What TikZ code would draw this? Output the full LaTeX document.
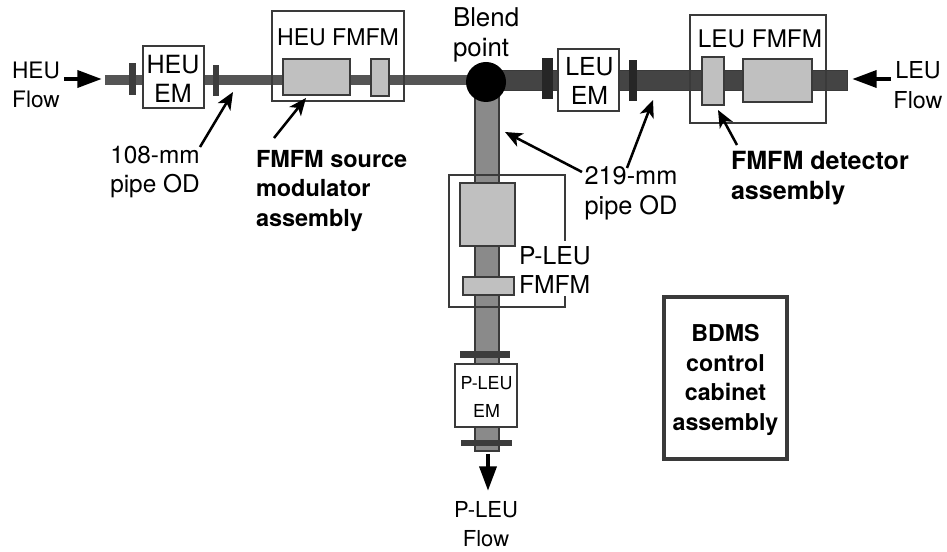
\documentclass[tikz,border=0pt]{standalone}
\usepackage{fontspec}
\setmainfont{TeX Gyre Heros}
\usetikzlibrary{arrows.meta}
\definecolor{compgray}{HTML}{C0C0C0}
\definecolor{edgegray}{HTML}{3A3A3A}
\definecolor{thinpipe}{HTML}{555555}
\definecolor{widepipe}{HTML}{444444}
\definecolor{vertpipe}{HTML}{8A8A8A}
\definecolor{flangegray}{HTML}{3C3C3C}
\newcommand{\comp}[6]{%
  \pgfmathsetmacro{\cx}{(#3+#5)/2}\pgfmathsetmacro{\cy}{(#4+#6)/2}%
  \pgfmathsetmacro{\cw}{(#5-#3)*0.75}\pgfmathsetmacro{\ch}{(#6-#4)*0.75}%
  \node[#2,minimum width=\cw pt,minimum height=\ch pt] (#1) at (\cx,\cy)}
\newcommand{\fs}[1]{\fontsize{#1}{22.2}\selectfont}
\tikzset{
  base/.style={rectangle,inner sep=0pt,outer sep=0pt},
  hpipe/.style={base,draw=thinpipe,fill=thinpipe,line width=0.5pt},
  lpipe/.style={base,draw=edgegray,fill=widepipe,line width=0.5pt},
  vpipe/.style={base,draw=edgegray,fill=vertpipe,line width=1pt},
  part/.style={base,draw=edgegray,fill=compgray,line width=1.1pt},
  flange/.style={base,draw=flangegray,fill=flangegray,line width=0.5pt},
  darkflange/.style={base,draw=black!85,fill=black!85,line width=0.5pt},
  housing/.style={base,draw=edgegray,line width=0.8pt},
  embox/.style={base,draw=edgegray,fill=white,line width=0.9pt,align=center},
  lab/.style={inner sep=0pt,outer sep=0pt,align=center},
  blab/.style={inner sep=0pt,outer sep=0pt,align=left,anchor=west,font=\bfseries},
  flow/.style={line width=3.4pt,-{Triangle[length=18.5pt,width=12.5pt]}},
  note/.style={line width=1.9pt,-{Stealth[length=13pt,width=11pt,inset=3.5pt]}}
}
\begin{document}
\begin{tikzpicture}[x=0.75pt,y=-0.75pt]
\useasboundingbox (0,0) rectangle (947,552);
% pipes
\comp{heupipe}{hpipe}{105}{75}{470}{84}{};
\comp{leupipe}{lpipe}{486}{70}{847}{90}{};
\comp{pleupipe}{vpipe}{475}{90}{499}{451}{};
% housings
\comp{heufmfm}{housing}{272}{11}{404}{101}{};
\comp{leufmfm}{housing}{690}{15}{826}{123}{};
\draw[edgegray,line width=0.8pt] (565,241) -- (565,175) -- (449,175) -- (449,307) -- (565,307) -- (565,296);
% flanges
\comp{fa}{flange}{129}{63}{135}{94}{};
\comp{fb}{flange}{213}{65}{218}{95}{};
\comp{fc}{darkflange}{542}{58}{552}{98}{};
\comp{fd}{darkflange}{629}{60}{636}{100}{};
\comp{fe}{flange}{460}{351}{509}{357}{};
\comp{ff}{flange}{461}{440}{511}{445}{};
% parts
\comp{srcbig}{part}{283}{59}{350}{95}{};
\comp{srcsmall}{part}{371}{59}{389}{96}{};
\comp{detsmall}{part}{702}{57}{724}{105}{};
\comp{detbig}{part}{743}{59}{812}{102}{};
\comp{pbig}{part}{460}{183}{515}{246}{};
\comp{psmall}{part}{463}{277}{514}{295}{};
% EM boxes
\comp{heuem}{embox}{143}{46}{204}{108}{};
\comp{leuem}{embox}{558}{49}{619}{111}{};
\comp{pleuem}{embox}{455}{364}{517}{427}{};
\node[lab,font=\fs{18.8}] (heuemlab) at (173,79) {HEU\\EM};
\node[lab,font=\fs{18.6}] (leuemlab) at (589.5,81) {LEU\\EM};
\node[lab,font=\fontsize{13.4}{21}\selectfont] (pemlab) at (486.5,397) {P-LEU\\EM};
% blend
\node[circle,fill=black,minimum size=30pt,inner sep=0pt,outer sep=0pt] (blend) at (486,82) {};
% cabinet
\comp{cabinet}{base,draw=edgegray,line width=3pt}{664}{297}{787}{459}{};
\node[lab,font=\fs{17.4}\bfseries] (cablab) at (725.5,380) {BDMS\\control\\cabinet\\assembly};
% labels
\node[lab,font=\fs{17}] (heuflow) at (36,85) {HEU\\Flow};
\node[lab,font=\fs{17.5}] (leuflow) at (918,85) {LEU\\Flow};
\node[lab,font=\fs{16.5}] (pflow) at (486,524) {P-LEU\\Flow};
\node[lab,font=\fs{17.3}] (heufmlab) at (338,37) {HEU FMFM};
\node[lab,font=\fs{18.2}] (leufmlab) at (760,39) {LEU FMFM};
\node[lab,font=\fs{19.4},align=left,anchor=west] (blendlab) at (453,35) {Blend\\point};
\node[lab,font=\fs{18.3}] (labsmall) at (155,172) {108-mm\\pipe OD};
\node[lab,font=\fs{19}] (lablarge) at (631,193) {219-mm\\pipe OD};
\node[lab,font=\fs{18.5},align=left,anchor=west] (pfm) at (519,270) {P-LEU\\FMFM};
\node[blab,font=\fs{17.6}\bfseries] (srclab) at (256,191) {FMFM source\\modulator\\assembly};
\node[blab,font=\fs{18.8}\bfseries] (detlab) at (731,178) {FMFM detector\\assembly};
% flow arrows
\coordinate (heuin) at (102,79);
\coordinate (heuout) at (64,79);
\coordinate (leuin) at (852,79);
\coordinate (leuout) at (891,79);
\coordinate (pout) at (488,491);
\coordinate (pstart) at (488,454);
\draw[flow] (heuout) -- (heuin);
\draw[flow] (leuout) -- (leuin);
\draw[flow] (pstart) -- (pout);
% annotation arrows
\coordinate (n1s) at (200,147); \coordinate (n1e) at (233,92);
\coordinate (n2s) at (274,138); \coordinate (n2e) at (306,98);
\coordinate (n3s) at (582,172); \coordinate (n3e) at (505,132);
\coordinate (n4s) at (627,168); \coordinate (n4e) at (653,100);
\coordinate (n5s) at (737,145); \coordinate (n5e) at (718,110);
\draw[note] (n1s) -- (n1e);
\draw[note] (n2s) -- (n2e);
\draw[note] (n3s) -- (n3e);
\draw[note] (n4s) -- (n4e);
\draw[note] (n5s) -- (n5e);
\end{tikzpicture}
\end{document}
